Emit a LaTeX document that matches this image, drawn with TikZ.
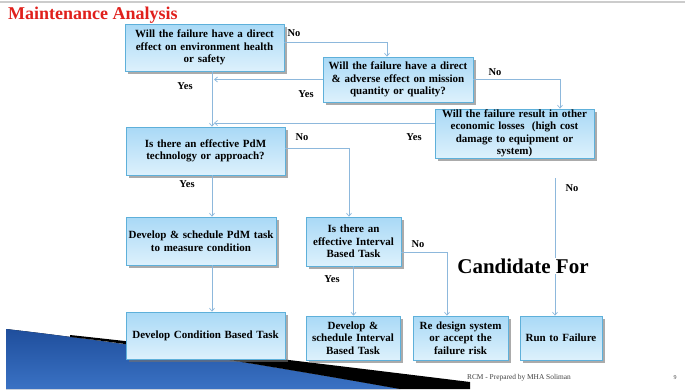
\documentclass[tikz,border=0pt]{standalone}
\usepackage{fontspec}
\setmainfont{Liberation Serif}
\usetikzlibrary{arrows.meta,shadows}

\definecolor{boxtop}{HTML}{A9D9F6}
\definecolor{boxbot}{HTML}{DDF1FC}
\definecolor{boxline}{HTML}{5EB0DA}
\definecolor{flowline}{HTML}{8DB8DC}
\definecolor{titlered}{HTML}{E0201C}
\definecolor{swooshdark}{HTML}{1F4E9C}
\definecolor{swooshlight}{HTML}{5B95DB}
\definecolor{swooshmid}{HTML}{3A72C4}

\begin{document}
\begin{tikzpicture}[
					x = 1pt, y = -1pt,
					box/.style = {
						shape = rectangle,
						draw = boxline,
						line width = 0.6pt,
						top color = boxtop,
						bottom color = boxbot,
						drop shadow = {shadow xshift = 2.5pt, shadow yshift = -2.5pt, opacity = 0.6, fill = black!55},
						inner sep = 0pt,
						align = center,
						text width = #1,
						font = \bfseries\fontsize{11}{12.5}\selectfont,
					},
					lbl/.style = {
						inner sep = 0pt,
						font = \bfseries\fontsize{10.5}{12}\selectfont,
					},
					flow/.style = {
						draw = flowline,
						line width = 0.7pt,
						-{Straight Barb[length = 3pt, width = 5pt]},
					},
			]
				\useasboundingbox (0, 0) rectangle (685, 389);
				\draw [black!20, line width = 1.5pt] (0, 2) -- (685, 2);

				\fill [top color = swooshdark, middle color = swooshlight, bottom color = swooshmid] (6, 329) .. controls (120, 342) and (260, 364) .. (400, 389) -- (6, 389) -- cycle;
				\fill [black] (70, 335) .. controls (200, 349) and (340, 366) .. (470, 382) -- (470, 389) -- (400, 389) .. controls (260, 364) and (120, 342) .. (70, 337) -- cycle;

				\draw (8, 15) node (title) [anchor = west, inner sep = 0pt, text = titlered, font = \bfseries\fontsize{18}{20}\selectfont] {Maintenance Analysis};

				\coordinate (trunk) at (212, 0);
				\coordinate (xq2) at (387, 0);
				\coordinate (xq3) at (560, 0);
				\coordinate (xq5) at (349, 0);
				\coordinate (xrun) at (555, 0);
				\coordinate (xre) at (447, 0);

				\draw (204.5, 47.5) node (q1) [box = 159pt, minimum height = 47pt] {Will the failure have a direct\\effect on environment health\\or safety};
				\draw (398, 79.5) node (q2) [box = 150pt, minimum height = 45pt] {Will the failure have a direct\\\& adverse effect on mission\\quantity or quality?};
				\draw (514.5, 133.5) node (q3) [box = 159pt, minimum height = 49pt] {Will the failure result in other\\economic losses~ (high cost\\damage to equipment or\\system)};
				\draw (205.5, 151) node (q4) [box = 159pt, minimum height = 48pt] {Is there an effective PdM\\technology or approach?};
				\draw (201, 241) node (t1) [box = 150pt, minimum height = 48pt] {Develop \& schedule PdM task\\to measure condition};
				\draw (353.5, 241.5) node (q5) [box = 95pt, minimum height = 49pt] {Is there an\\effective Interval\\Based Task};
				\draw (205.5, 335.5) node (t2) [box = 159pt, minimum height = 47pt] {Develop Condition Based Task};
				\draw (353, 338) node (t3) [box = 94pt, minimum height = 44pt] {Develop \&\\schedule Interval\\Based Task};
				\draw (460.5, 338) node (t4) [box = 95pt, minimum height = 44pt] {Re design system\\or accept the\\failure risk};
				\draw (561, 338) node (t5) [box = 82pt, minimum height = 44pt] {Run to Failure};

				\draw [flow] (q1.south -| trunk) -- (q4.north -| trunk);
				\draw [flow] ([yshift = 5.5pt]q1.east) -| (q2.north -| xq2);
				\draw [flow, shorten > = 2pt] (q2.west) -- (q2.west -| trunk);
				\draw [flow] (q2.east) -| (q3.north -| xq3);
				\draw [flow, shorten > = 2pt] ([yshift = 10.5pt]q3.west) -- ([yshift = 10.5pt]q3.west -| trunk);
				\draw [flow] ([yshift = -20pt]q3.south -| xrun) -- (t5.north -| xrun);
				\draw [flow] ([yshift = 3pt]q4.east) -| (q5.north -| xq5);
				\draw [flow] (q4.south -| trunk) -- (t1.north -| trunk);
				\draw [flow] (t1.south -| trunk) -- (t2.north -| trunk);
				\draw [flow] (q5.south) -- (q5.south |- t3.north);
				\draw [flow] ([yshift = -10.5pt]q5.east) -| (t4.north -| xre);

				\draw (523, 266) node (cand) [fill = white, inner sep = 1pt, font = \bfseries\fontsize{21}{24}\selectfont] {Candidate For};

				\draw (294, 33) node (no1) [lbl] {No};
				\draw (185, 86) node (yes1) [lbl] {Yes};
				\draw (306, 94) node (yes2) [lbl] {Yes};
				\draw (495, 72) node (no2) [lbl] {No};
				\draw (414, 137) node (yes3) [lbl] {Yes};
				\draw (572, 188) node (no3) [lbl] {No};
				\draw (302, 137) node (no4) [lbl] {No};
				\draw (187, 184) node (yes4) [lbl] {Yes};
				\draw (418, 244) node (no5) [lbl] {No};
				\draw (332, 279) node (yes5) [lbl] {Yes};

				\draw (519, 378) node (foot) [inner sep = 0pt, text = black!75, font = \fontsize{7.4}{8}\selectfont] {RCM - Prepared by MHA Soliman};
				\draw (675, 378) node (page) [inner sep = 0pt, text = black!75, font = \fontsize{6}{7}\selectfont] {9};
			\end{tikzpicture}
\end{document}
